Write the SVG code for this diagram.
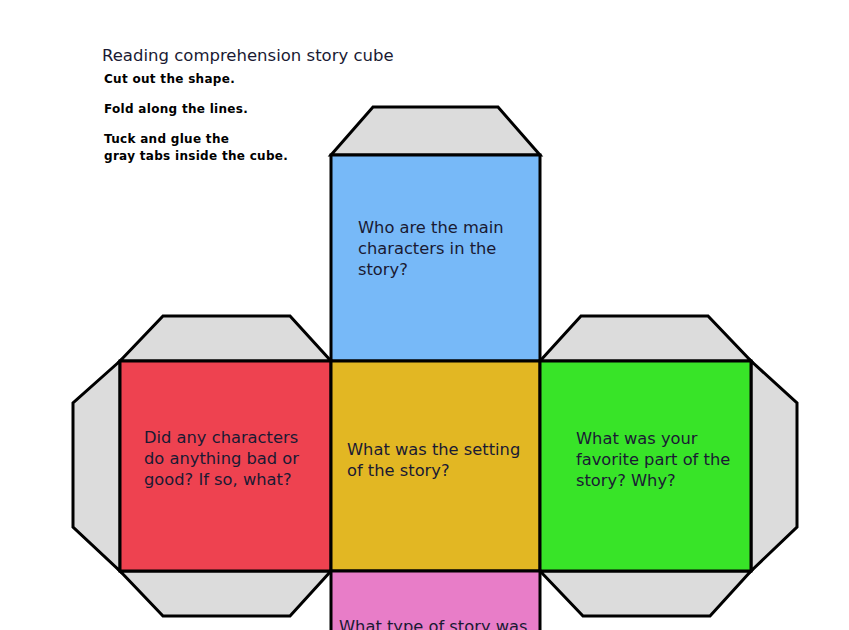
<svg xmlns="http://www.w3.org/2000/svg" width="849" height="630" viewBox="0 0 849 630">
<style>
.tab{fill:#dcdcdc;stroke:#000;stroke-width:3;stroke-linejoin:miter}
.face{stroke:#000;stroke-width:3}
.q{font-family:"DejaVu Sans",sans-serif;font-size:16.3px;fill:#1a1a33}
.i{font-family:"DejaVu Sans",sans-serif;font-size:12px;font-weight:bold;fill:#000;letter-spacing:0.3px}
</style>
<rect width="849" height="630" fill="#fff"/>
<g id="title">
<text x="102" y="61" font-family="DejaVu Sans,sans-serif" font-size="16.5" fill="#1a1a33">Reading comprehension story cube</text>
<text class="i" x="104" y="83">Cut out the shape.</text>
<text class="i" x="104" y="113">Fold along the lines.</text>
<text class="i" x="104" y="143">Tuck and glue the</text>
<text class="i" x="104" y="160">gray tabs inside the cube.</text>
</g>
<g id="tabs">
<polygon class="tab" points="331,155 373,107 498,107 540,155"/>
<polygon class="tab" points="120,361 163,316 290,316 331,361"/>
<polygon class="tab" points="120,361 73,403 73,527 120,571"/>
<polygon class="tab" points="120,571 163,616 290,616 331,571"/>
<polygon class="tab" points="540,361 581,316 708,316 751,361"/>
<polygon class="tab" points="751,361 797,403 797,527 751,571"/>
<polygon class="tab" points="540,571 583,616 710,616 751,571"/>
</g>
<g id="top">
<rect class="face" x="331" y="155" width="209" height="206" fill="#77b9f8"/>
<text class="q" x="358" y="233">Who are the main</text>
<text class="q" x="358" y="254">characters in the</text>
<text class="q" x="358" y="275">story?</text>
</g>
<g id="left">
<rect class="face" x="120" y="361" width="211" height="210" fill="#ee4250"/>
<text class="q" x="144" y="443">Did any characters</text>
<text class="q" x="144" y="464">do anything bad or</text>
<text class="q" x="144" y="485">good? If so, what?</text>
</g>
<g id="center">
<rect class="face" x="331" y="361" width="209" height="210" fill="#e2b723"/>
<text class="q" x="347" y="455">What was the setting</text>
<text class="q" x="347" y="476">of the story?</text>
</g>
<g id="right">
<rect class="face" x="540" y="361" width="211" height="210" fill="#38e428"/>
<text class="q" x="576" y="444">What was your</text>
<text class="q" x="576" y="465">favorite part of the</text>
<text class="q" x="576" y="486">story? Why?</text>
</g>
<g id="bottom">
<rect class="face" x="331" y="571" width="209" height="80" fill="#e87dc8"/>
<text class="q" x="339" y="632">What type of story was</text>
</g>
<g id="connectors"></g>
</svg>
